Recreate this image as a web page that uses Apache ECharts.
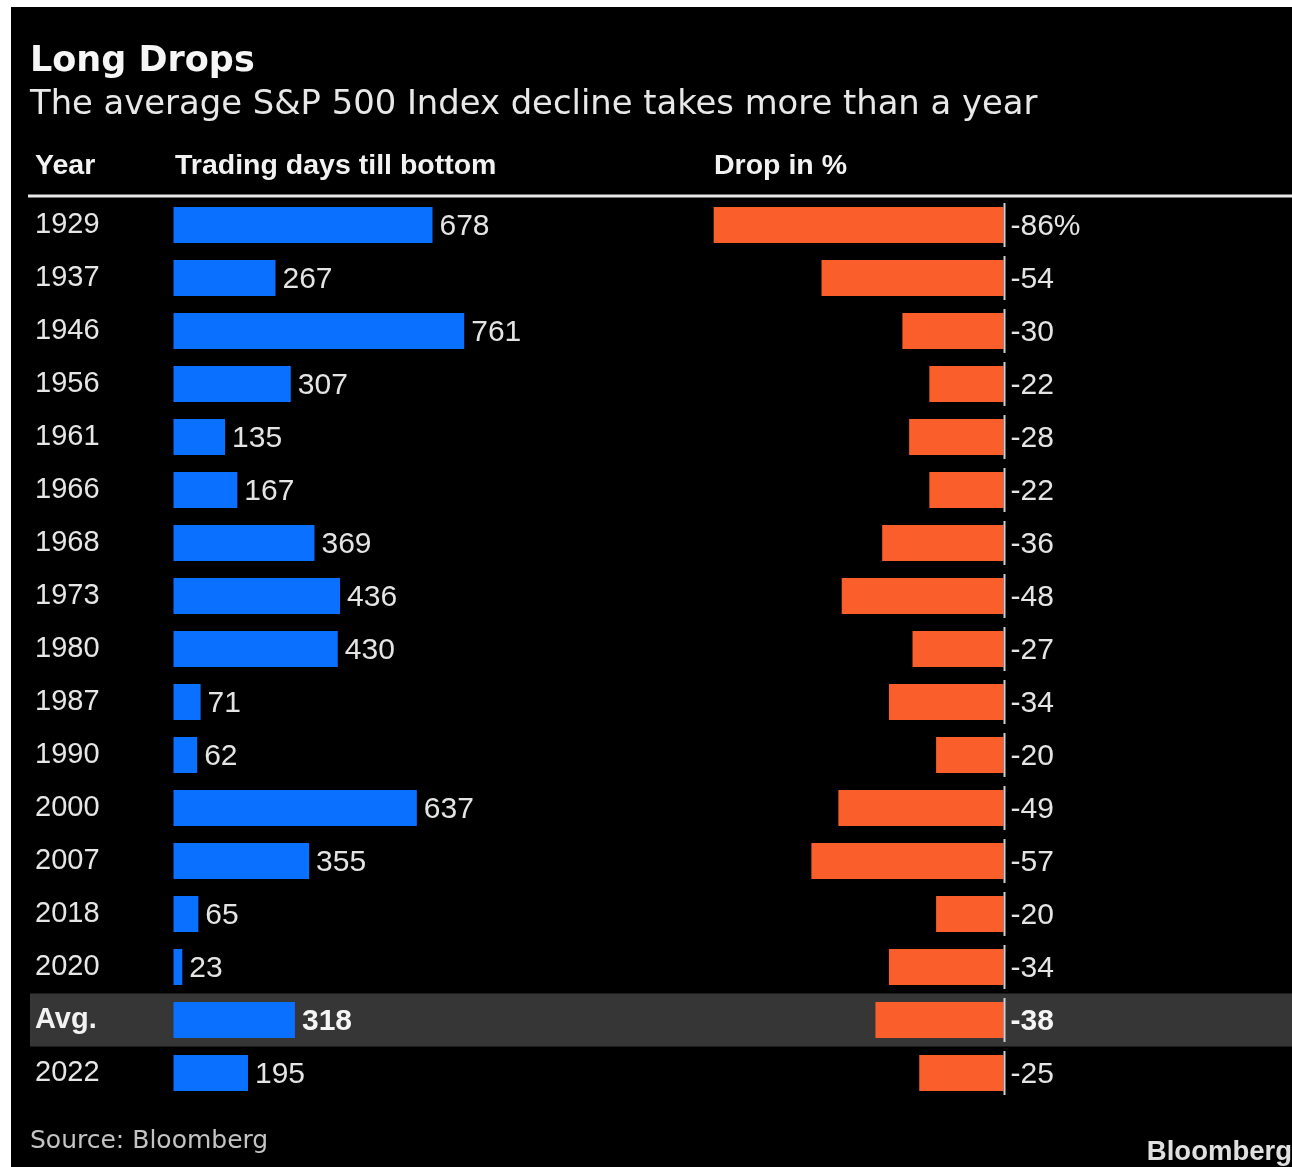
<!DOCTYPE html>
<html>
<head>
<meta charset="utf-8">
<script src="https://cdn.jsdelivr.net/npm/echarts@6/dist/echarts.min.js"></script>
<style>
  html, body { margin: 0; padding: 0; background: #fff; }
  #chart { position: absolute; left: 11px; top: 7px; width: 1281px; height: 1160px; }
</style>
</head>
<body>
<div id="chart"></div>
<script>
// Bear-market table: trading days from peak to bottom and the size of the drop
const years = ['1929', '1937', '1946', '1956', '1961', '1966', '1968', '1973', '1980',
               '1987', '1990', '2000', '2007', '2018', '2020', 'Avg.', '2022'];
const tradingDays = [678, 267, 761, 307, 135, 167, 369, 436, 430, 71, 62, 637, 355, 65, 23, 318, 195];
const dropPct = [-86, -54, -30, -22, -28, -22, -36, -48, -27, -34, -20, -49, -57, -20, -34, -38, -25];
const highlightRow = 'Avg.';

// The chart canvas sits 11px right and 7px down inside the page
const OX = 11, OY = 7;
const X = v => v - OX;
const Y = v => v - OY;

const NUM_FONT = '"Liberation Sans", Arial, sans-serif';
const HEAD_FONT = '"DejaVu Sans", Verdana, sans-serif';
const BLUE = '#0a70ff';
const ORANGE = '#fa5f2b';
const ROW_H = 53;
const BAR_H = 36;
const TOP = Y(198.5);
const ROWS_H = ROW_H * years.length;
const LABEL_SIZE = 30;

const isHi = name => name === highlightRow;

const chart = echarts.init(document.getElementById('chart'), null, { renderer: 'canvas' });

const catAxis = (gridIndex, extra) => Object.assign({
  type: 'category', data: years, inverse: true, gridIndex, z: 5,
  axisLine: { show: false }, axisTick: { show: false }, axisLabel: { show: false },
  splitLine: { show: false }
}, extra || {});

chart.setOption({
  backgroundColor: '#000',
  animation: false,
  grid: [
    // full-width grid used for the highlighted average row
    { left: X(30), right: 0, top: TOP, height: ROWS_H },
    // trading days bars
    { left: X(173.5), width: 382, top: TOP, height: ROWS_H },
    // drop in percent bars (zero on the right)
    { left: X(666.5), width: 337, top: TOP, height: ROWS_H }
  ],
  xAxis: [
    { type: 'value', gridIndex: 0, min: 0, max: 1, show: false },
    { type: 'value', gridIndex: 1, min: 0, max: 1000, show: false },
    { type: 'value', gridIndex: 2, min: -100, max: 0, show: false }
  ],
  yAxis: [
    catAxis(0),
    catAxis(1, {
      axisLabel: {
        show: true, align: 'left', margin: 173.5 - 35,
        color: '#e6e6e6', fontFamily: NUM_FONT, fontSize: 29,
        formatter: v => isHi(v) ? '{b|' + v + '}' : v,
        rich: { b: { fontWeight: 'bold', color: '#f2f2f2', fontFamily: NUM_FONT, fontSize: 29 } }
      }
    }),
    catAxis(2)
  ],
  graphic: [
    { type: 'text', left: X(30), top: Y(44),
      style: { text: 'Long Drops', fill: '#f5f5f5', font: 'bold 35px ' + HEAD_FONT } },
    { type: 'text', left: X(30), top: Y(88),
      style: { text: 'The average S&P 500 Index decline takes more than a year', fill: '#e8e8e8', font: '33.8px ' + HEAD_FONT } },
    { type: 'text', left: X(35), top: Y(152),
      style: { text: 'Year', fill: '#f2f2f2', font: 'bold 28.5px ' + NUM_FONT } },
    { type: 'text', left: X(175), top: Y(152),
      style: { text: 'Trading days till bottom', fill: '#f2f2f2', font: 'bold 28.5px ' + NUM_FONT } },
    { type: 'text', left: X(714), top: Y(152),
      style: { text: 'Drop in %', fill: '#f2f2f2', font: 'bold 28.5px ' + NUM_FONT } },
    { type: 'rect', shape: { x: X(28), y: Y(194.5), width: 1292, height: 3 },
      style: { fill: '#e8e8e8' } },
    { type: 'text', left: X(30), top: Y(1129),
      style: { text: 'Source: Bloomberg', fill: '#c4c4c4', font: '25px ' + HEAD_FONT } },
    { type: 'text', right: 0, top: Y(1138),
      style: { text: 'Bloomberg', fill: '#e0e0e0', font: 'bold 27.5px ' + NUM_FONT } }
  ],
  series: [
    {
      // grey band behind the average row
      type: 'bar', xAxisIndex: 0, yAxisIndex: 0, barWidth: ROW_H, silent: true, z: 0,
      data: years.map(y => isHi(y) ? 1 : 0),
      itemStyle: { color: '#363636' }
    },
    {
      type: 'bar', xAxisIndex: 1, yAxisIndex: 1, barWidth: BAR_H, silent: true, z: 3,
      data: tradingDays,
      itemStyle: { color: BLUE },
      label: {
        show: true, position: 'right', distance: 7, offset: [0, 2],
        fontFamily: NUM_FONT, fontSize: LABEL_SIZE, color: '#e4e4e4',
        formatter: p => isHi(years[p.dataIndex]) ? '{b|' + p.value + '}' : String(p.value),
        rich: { b: { fontWeight: 'bold', color: '#f5f5f5', fontFamily: NUM_FONT, fontSize: LABEL_SIZE } }
      }
    },
    {
      type: 'custom', xAxisIndex: 2, yAxisIndex: 2, silent: true, z: 3,
      data: dropPct.map((v, i) => [v, i]),
      renderItem: (params, api) => {
        const v = api.value(0);
        const idx = api.value(1);
        const p0 = api.coord([0, idx]);
        const p1 = api.coord([v, idx]);
        const hi = isHi(years[idx]);
        const txt = (params.dataIndex === 0 ? v + '%' : String(v));
        return {
          type: 'group',
          children: [
            { type: 'rect', shape: { x: p1[0], y: p0[1] - BAR_H / 2, width: p0[0] - p1[0], height: BAR_H },
              style: { fill: ORANGE } },
            { type: 'rect', shape: { x: p0[0], y: p0[1] - 22, width: 2, height: 44 },
              style: { fill: '#d0d0d0' } },
            { type: 'text', x: p0[0] + 7, y: p0[1] + 2,
              style: { text: txt, fill: hi ? '#f5f5f5' : '#e4e4e4',
                       font: (hi ? 'bold ' : '') + LABEL_SIZE + 'px ' + NUM_FONT,
                       textAlign: 'left', textVerticalAlign: 'middle' } }
          ]
        };
      }
    }
  ]
});
</script>
</body>
</html>
